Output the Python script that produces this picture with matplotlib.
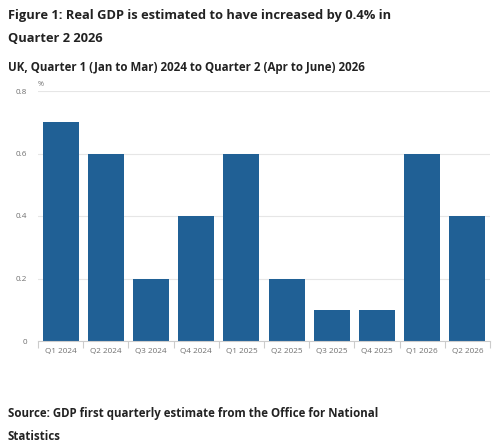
import matplotlib.pyplot as plt

plt.rcParams["font.family"] = ["Open Sans", "DejaVu Sans"]

quarters = ["Q1 2024", "Q2 2024", "Q3 2024", "Q4 2024", "Q1 2025",
            "Q2 2025", "Q3 2025", "Q4 2025", "Q1 2026", "Q2 2026"]
growth = [0.7, 0.6, 0.2, 0.4, 0.6, 0.2, 0.1, 0.1, 0.6, 0.4]
yticks = [0, 0.2, 0.4, 0.6, 0.8]

BLUE = "#206095"
GREY = "#707070"
INK = "#222222"

fig = plt.figure(figsize=(5.0, 4.47), dpi=100)
ax = fig.add_axes([38 / 500, 1 - 341 / 447, 452 / 500, 250 / 447])

x = range(len(quarters))
ax.bar(x, growth, width=0.8, color=BLUE, zorder=3)
ax.set_xlim(-0.5, len(quarters) - 0.5)
ax.set_ylim(0, 0.8)

ax.set_yticks(yticks)
ax.set_yticklabels(["0", "0.2", "0.4", "0.6", "0.8"])
ax.set_xticks(list(x))
ax.set_xticklabels(quarters)
ax.set_xticks([i - 0.5 for i in range(len(quarters) + 1)], minor=True)
ax.tick_params(axis="x", which="major", length=0, labelsize=5.9, colors=GREY, pad=5)
ax.tick_params(axis="x", which="minor", length=5, color="#cccccc", width=0.8)
ax.tick_params(axis="y", length=0, labelsize=5.9, colors=GREY, pad=8)
ax.grid(axis="y", color="#e6e6e6", linewidth=0.8, zorder=0)

for side in ("top", "right", "left"):
    ax.spines[side].set_visible(False)
ax.spines["bottom"].set_color("#cccccc")
ax.spines["bottom"].set_linewidth(0.8)
ax.spines["bottom"].set_zorder(4)

ax.text(0.0, 1.01, "%", transform=ax.transAxes, fontsize=5.2, color=GREY,
        ha="left", va="bottom")

fig.text(8 / 500, 1 - 15 / 447, "Figure 1: Real GDP is estimated to have increased by 0.4% in",
         fontsize=9.3, fontweight="bold", color=INK, va="center")
fig.text(8 / 500, 1 - 38 / 447, "Quarter 2 2026",
         fontsize=9.3, fontweight="bold", color=INK, va="center")
fig.text(8 / 500, 1 - 67 / 447, "UK, Quarter 1 (Jan to Mar) 2024 to Quarter 2 (Apr to June) 2026",
         fontsize=8.3, fontweight="bold", color=INK, va="center")
fig.text(8 / 500, 1 - 413 / 447, "Source: GDP first quarterly estimate from the Office for National",
         fontsize=8.3, fontweight="bold", color=INK, va="center")
fig.text(8 / 500, 1 - 436 / 447, "Statistics",
         fontsize=8.3, fontweight="bold", color=INK, va="center")

fig.savefig("out.png", dpi=100)
